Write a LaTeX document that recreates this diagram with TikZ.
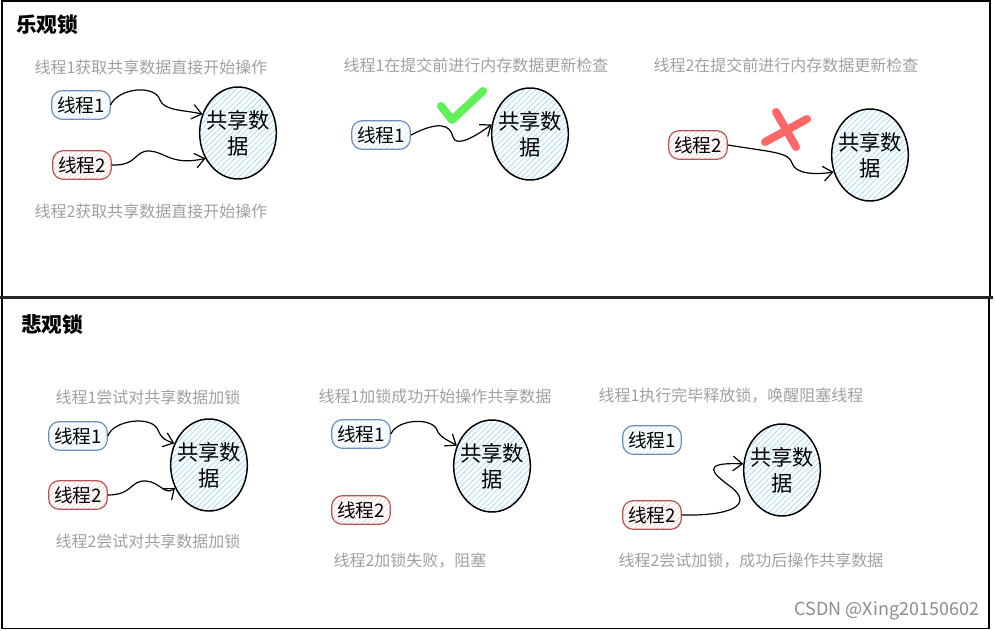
\documentclass[tikz,border=0pt]{standalone}
\usepackage{fontspec}
\setmainfont{Noto Sans CJK SC}
\newfontfamily\cjk{Noto Sans CJK SC}
\usetikzlibrary{shapes.geometric,patterns.meta,arrows.meta}
\definecolor{capgray}{HTML}{A0A0A0}
\definecolor{blueln}{HTML}{6C8EBF}
\definecolor{redln}{HTML}{B85450}
\definecolor{hatchblue}{HTML}{A8DDF5}
\definecolor{hatchred}{HTML}{F5C4C2}
\definecolor{okgreen}{HTML}{5FF05A}
\definecolor{badred}{HTML}{FF6666}
\tikzset{
  caption/.style={text=capgray, font=\cjk\fontsize{12}{14}\selectfont, inner sep=0pt},
  title/.style={font=\cjk\bfseries\fontsize{15.5}{17}\selectfont, inner sep=0pt, anchor=west},
  thr/.style={rounded corners=8pt, minimum width=44pt, minimum height=21.5pt, inner sep=0pt, line width=0.9pt,
    font=\cjk\fontsize{14}{15}\selectfont},
  thrA/.style={thr, draw=blueln, pattern={Lines[angle=45,distance=3pt,line width=0.4pt]}, pattern color=hatchblue!60},
  thrB/.style={thr, draw=redln, pattern={Lines[angle=45,distance=3pt,line width=0.4pt]}, pattern color=hatchred},
  data/.style={ellipse, draw=black, line width=1.1pt, minimum width=57.5pt, minimum height=69pt,
    inner xsep=-8pt, inner ysep=0pt,
    align=center, font=\cjk\fontsize{16}{19.5}\selectfont,
    pattern={Lines[angle=45,distance=3pt,line width=0.6pt]}, pattern color=hatchblue},
  link/.style={draw=black, line width=0.9pt, -{Straight Barb[length=7pt,width=11pt]}},
  frame/.style={draw=black, line width=1pt},
}
\begin{document}
\begin{tikzpicture}[x=0.75pt,y=-0.75pt]
\useasboundingbox (0,0) rectangle (995,631);
% frames
\draw[frame] (2,297) -- (2,1) -- (990,1) -- (990,297);
\draw[draw=black!85, line width=2.2pt] (0,297.5) -- (993,297.5);
\draw[frame] (2,298) -- (2,628.5) -- (989,628.5) -- (989,298);
% titles
\node[title] (tt1) at (16,25) {乐观锁};
\node[title] (tt2) at (21,325) {悲观锁};

% ---------- panel 1 ----------
\node[caption] (c1a) at (151,67) {线程1获取共享数据直接开始操作};
\node[thrA] (t1a) at (81,105) {线程1};
\node[thrB] (t2a) at (82,165) {线程2};
\node[data] (d1) at (238,133) {共享数\\据};
\node[caption] (c1b) at (151,211) {线程2获取共享数据直接开始操作};
\draw[link] (t1a.east) .. controls (118,88) and (155,84) .. (160,100) .. controls (164,111) and (185,110) .. (d1.152);
\draw[link] (t2a.east) .. controls (138,166) and (134,150) .. (150,151) .. controls (165,152) and (172,166) .. (d1.218);

% ---------- panel 2 ----------
\node[caption] (c2a) at (476,65) {线程1在提交前进行内存数据更新检查};
\node[thrA] (t1b) at (381,135) {线程1};
\node[data] (d2) at (530,134) {共享数\\据};
\draw[link] (t1b.east) .. controls (438,121) and (450,124) .. (453,137) .. controls (456,148) and (476,136) .. (d2.166);
\draw[okgreen, line width=6pt, line cap=round, line join=round] (441,106) -- (452,120) -- (483,91);

% ---------- panel 3 ----------
\node[caption] (c3a) at (786,65) {线程2在提交前进行内存数据更新检查};
\node[thrB] (t2b) at (698,145) {线程2};
\node[data] (d3) at (870,155) {共享数\\据};
\draw[link] (t2b.east) .. controls (770,152) and (789,152) .. (792,163) .. controls (795,174) and (815,175) .. (d3.205);
\draw[badred, line width=6pt, line cap=round] (776,112) -- (796,147);
\draw[badred, line width=6pt, line cap=round] (765,142) -- (807,119);

% ---------- panel 4 ----------
\node[caption] (c4a) at (148,397) {线程1尝试对共享数据加锁};
\node[thrA] (t1c) at (78,436) {线程1};
\node[thrB] (t2c) at (78,495) {线程2};
\node[data] (d4) at (209,465) {共享数\\据};
\node[caption] (c4b) at (148,541) {线程2尝试对共享数据加锁};
\draw[link] (t1c.east) .. controls (113,420) and (152,415) .. (158,430) .. controls (162,440) and (168,441) .. (d4.148);
\draw[link] (t2c.east) .. controls (133,495) and (130,480) .. (146,481) .. controls (160,482) and (165,496) .. (d4.214);

% ---------- panel 5 ----------
\node[caption] (c5a) at (435,396) {线程1加锁成功开始操作共享数据};
\node[thrA] (t1d) at (361,434) {线程1};
\node[thrB] (t2d) at (361,510) {线程2};
\node[data] (d5) at (492,466) {共享数\\据};
\node[caption] (c5b) at (410,561) {线程2加锁失败，阻塞};
\draw[link] (t1d.east) .. controls (397,419) and (432,417) .. (437,430) .. controls (440,438) and (450,441) .. (d5.150);

% ---------- panel 6 ----------
\node[caption] (c6a) at (731,396) {线程1执行完毕释放锁，唤醒阻塞线程};
\node[thrA] (t1e) at (652,440) {线程1};
\node[thrB] (t2e) at (652,515) {线程2};
\node[data] (d6) at (782,470) {共享数\\据};
\node[caption] (c6b) at (751,561) {线程2尝试加锁，成功后操作共享数据};
\draw[link] (t2e.east) .. controls (728,516) and (755,506) .. (731,487) .. controls (712,473) and (700,462) .. (d6.171);

% watermark
\node[text=black!45, font=\fontsize{13.5}{15}\selectfont, inner sep=0pt] (wm) at (887,611) {CSDN @Xing20150602};
\end{tikzpicture}
\end{document}
